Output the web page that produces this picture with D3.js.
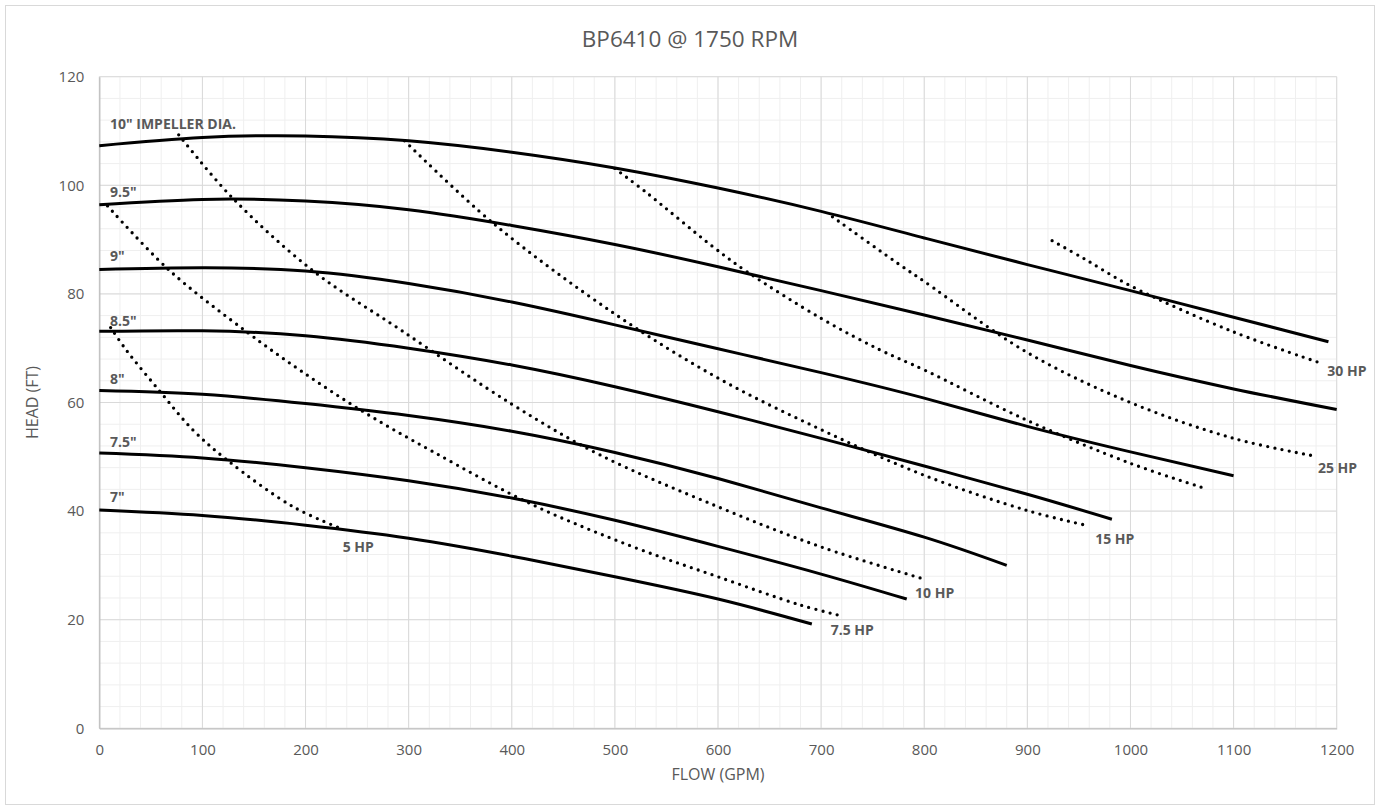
<!DOCTYPE html>
<html>
<head>
<meta charset="utf-8">
<script src="https://cdn.jsdelivr.net/npm/d3@7/dist/d3.min.js"></script>
<style>
  html, body { margin: 0; padding: 0; background: #fff; }
  svg { display: block; font-family: "Open Sans", "Noto Sans", sans-serif; }
</style>
</head>
<body>
<svg id="chart" width="1380" height="810"></svg>
<script>
// ---------------- DATA ----------------
const chartTitle = "BP6410 @ 1750 RPM";
const xTitle = "FLOW (GPM)";
const yTitle = "HEAD (FT)";
const xTickValues = [0, 100, 200, 300, 400, 500, 600, 700, 800, 900, 1000, 1100, 1200];
const yTickValues = [0, 20, 40, 60, 80, 100, 120];

// Impeller curves: [flow GPM, head FT]
const imp10  = [[0,107.3],[100,108.8],[200,109.1],[300,108.2],[400,106.1],[500,103.2],[600,99.5],[700,95.2],[800,90.3],[900,85.4],[1000,80.6],[1100,75.7],[1192,71.2]];
const imp95  = [[0,96.4],[100,97.4],[200,97.1],[300,95.5],[400,92.6],[500,89.1],[600,85.0],[700,80.6],[800,76.1],[900,71.5],[1000,66.8],[1100,62.5],[1200,58.7]];
const imp9   = [[0,84.5],[100,84.8],[200,84.2],[300,81.9],[400,78.5],[500,74.3],[600,69.9],[700,65.5],[800,60.8],[900,55.6],[1000,50.9],[1100,46.5]];
const imp85  = [[0,73.1],[100,73.2],[200,72.3],[300,70.0],[400,66.9],[500,62.9],[600,58.3],[700,53.4],[800,48.3],[900,43.1],[982,38.5]];
const imp8   = [[0,62.2],[100,61.5],[200,59.8],[300,57.6],[400,54.7],[500,50.8],[600,46.0],[700,40.6],[800,35.2],[880,30.0]];
const imp75  = [[0,50.7],[100,49.8],[200,48.0],[300,45.6],[400,42.4],[500,38.3],[600,33.5],[700,28.4],[783,23.8]];
const imp7   = [[0,40.2],[100,39.2],[200,37.4],[300,35.0],[400,31.7],[500,27.9],[600,23.8],[691,19.2]];
const impellerNames = ["10\" IMPELLER DIA.", "9.5\"", "9\"", "8.5\"", "8\"", "7.5\"", "7\""];

// Horsepower (non-overloading) curves: [flow GPM, head FT]
const hp5   = [[11,73.8],[26,69.7],[59,62.0],[91,54.9],[124,49.4],[188,40.8],[237,36.6]];
const hp75  = [[8,96.2],[67,84.5],[143,73.0],[195,65.9],[256,58.3],[324,50.9],[421,41.1],[518,33.4],[600,27.9],[680,22.7],[720,20.7]];
const hp10  = [[77,109.3],[128,97.9],[207,84.3],[292,73.4],[400,59.7],[485,50.4],[600,40.8],[700,33.4],[796,27.7]];
const hp15  = [[296,108.2],[382,93.0],[500,76.3],[600,64.5],[700,55.0],[800,46.6],[900,40.1],[959,37.3]];
const hp20  = [[500,103.1],[531,98.6],[595,88.7],[628,84.1],[700,75.5],[757,69.7],[800,66.0],[900,56.7],[1000,48.8],[1072,44.2]];
const hp25  = [[711,94.2],[779,85.0],[800,82.3],[900,69.2],[1000,60.0],[1100,53.4],[1177,50.2]];
const hp30  = [[924,89.8],[955,86.5],[1000,81.5],[1100,73.0],[1187,67.1]];
const hpNames = ["5 HP", "7.5 HP", "10 HP", "15 HP", "", "25 HP", "30 HP"];

// ---------------- LAYOUT ----------------
const W = 1380, H = 810;
const plot = { left: 99.3, right: 1336.7, top: 76.7, bottom: 728.3 };
const svg = d3.select("#chart");
const textColor = "#595959";

svg.append("rect")
  .attr("x", 5.5).attr("y", 5.5).attr("width", W - 11).attr("height", H - 11)
  .attr("fill", "#fff").attr("stroke", "#d9d9d9").attr("stroke-width", 1);

const x = d3.scaleLinear().domain([0, 1200]).range([plot.left, plot.right]);
const y = d3.scaleLinear().domain([0, 120]).range([plot.bottom, plot.top]);

// Minor gridlines
const g = svg.append("g");
g.selectAll("line.xminor").data(d3.range(0, 1201, 20)).enter().append("line")
  .attr("x1", d => x(d)).attr("x2", d => x(d))
  .attr("y1", plot.top).attr("y2", plot.bottom)
  .attr("stroke", "#efefef").attr("stroke-width", 1);
g.selectAll("line.yminor").data(d3.range(0, 121, 4)).enter().append("line")
  .attr("y1", d => y(d)).attr("y2", d => y(d))
  .attr("x1", plot.left).attr("x2", plot.right)
  .attr("stroke", "#efefef").attr("stroke-width", 1);
// Major gridlines
g.selectAll("line.xmajor").data(xTickValues).enter().append("line")
  .attr("x1", d => x(d)).attr("x2", d => x(d))
  .attr("y1", plot.top).attr("y2", plot.bottom)
  .attr("stroke", "#d9d9d9").attr("stroke-width", 1);
g.selectAll("line.ymajor").data(yTickValues).enter().append("line")
  .attr("y1", d => y(d)).attr("y2", d => y(d))
  .attr("x1", plot.left).attr("x2", plot.right)
  .attr("stroke", "#d9d9d9").attr("stroke-width", 1);

// Axes
const xAxis = svg.append("g").attr("transform", `translate(0,${plot.bottom})`)
  .call(d3.axisBottom(x).tickValues(xTickValues).tickSize(0).tickPadding(16).tickFormat(d3.format("d")));
const yAxis = svg.append("g").attr("transform", `translate(${plot.left},0)`)
  .call(d3.axisLeft(y).tickValues(yTickValues).tickSize(0).tickPadding(15).tickFormat(d3.format("d")));
[xAxis, yAxis].forEach(a => {
  a.select(".domain").attr("stroke", "#bfbfbf").attr("stroke-width", 1.3);
  a.selectAll("text").attr("fill", textColor)
    .style("font-family", "'Open Sans', sans-serif").style("font-size", "15px");
});

// Titles
svg.append("text").attr("x", 690).attr("y", 47.3).attr("text-anchor", "middle")
  .attr("fill", textColor).style("font-size", "22.5px").text(chartTitle);
svg.append("text").attr("x", (plot.left + plot.right) / 2).attr("y", 780).attr("text-anchor", "middle")
  .attr("fill", textColor).style("font-size", "16px").text(xTitle);
svg.append("text").attr("transform", `translate(38,${(plot.top + plot.bottom) / 2}) rotate(-90)`)
  .attr("text-anchor", "middle").attr("fill", textColor).style("font-size", "16px").text(yTitle);

// Curves
const impLine = d3.line().x(d => x(d[0])).y(d => y(d[1])).curve(d3.curveNatural);
const hpLine = d3.line().x(d => x(d[0])).y(d => y(d[1])).curve(d3.curveCatmullRom.alpha(0.5));
const impellers = [imp10, imp95, imp9, imp85, imp8, imp75, imp7];
const hps = [hp5, hp75, hp10, hp15, hp20, hp25, hp30];

svg.append("g").selectAll("path").data(hps).enter().append("path")
  .attr("d", hpLine).attr("fill", "none").attr("stroke", "#000")
  .attr("stroke-width", 3.3).attr("stroke-linecap", "round")
  .attr("stroke-dasharray", "0 7.3");

svg.append("g").selectAll("path").data(impellers).enter().append("path")
  .attr("d", impLine).attr("fill", "none").attr("stroke", "#000")
  .attr("stroke-width", 3).attr("stroke-linecap", "butt");

// Impeller labels (placed just above each curve's start)
const impLabelLift = [16.4, 8.1, 8.5, 5.4, 6.6, 6.3, 8.3];
svg.append("g").selectAll("text").data(impellers).enter().append("text")
  .attr("x", 110)
  .attr("y", (d, i) => y(d[0][1]) - impLabelLift[i])
  .attr("fill", textColor).style("font-size", "14px").style("font-weight", "bold")
  .text((d, i) => impellerNames[i]);

// HP labels (placed near the end of each dotted curve)
const hpLabelOffset = [[-1, 22], [-11, 19], [-5, 20], [7, 18], [0, 0], [5, 17], [4, 12]];
svg.append("g").selectAll("text").data(hps).enter().append("text")
  .attr("x", (d, i) => x(d[d.length - 1][0]) + hpLabelOffset[i][0])
  .attr("y", (d, i) => y(d[d.length - 1][1]) + hpLabelOffset[i][1])
  .attr("fill", textColor).style("font-size", "14px").style("font-weight", "bold")
  .text((d, i) => hpNames[i]);
</script>
</body>
</html>
